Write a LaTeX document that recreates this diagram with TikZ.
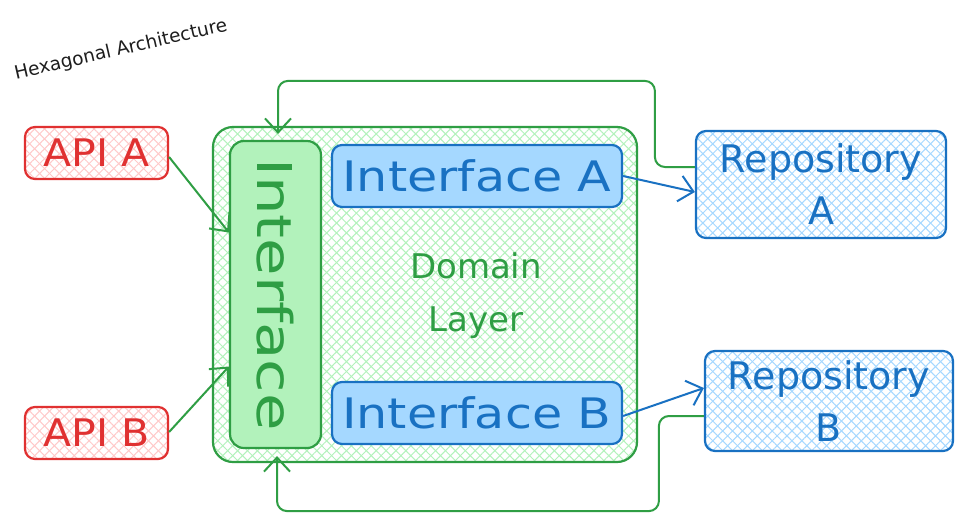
\documentclass[tikz,border=0pt]{standalone}
\usepackage{fontspec}
\setmainfont{DejaVu Sans}
\usetikzlibrary{patterns.meta,arrows.meta,calc}
\definecolor{cred}{HTML}{E03131}
\definecolor{credl}{HTML}{FFC9C9}
\definecolor{cgreen}{HTML}{2F9E44}
\definecolor{cgreenl}{HTML}{B2F2BB}
\definecolor{cblue}{HTML}{1971C2}
\definecolor{cbluel}{HTML}{A5D8FF}
\definecolor{cink}{HTML}{1E1E1E}
\tikzset{
  hatch/.style={
    preaction={pattern={Lines[angle=45,distance=7pt,line width=1pt]},pattern color=#1},
    preaction={pattern={Lines[angle=-45,distance=7pt,line width=1pt]},pattern color=#1}},
  box/.style={draw, line width=2.2pt, rounded corners=10pt, inner sep=0pt},
  redbox/.style={box, draw=cred, hatch=credl, text=cred},
  bluebox/.style={box, draw=cblue, hatch=cbluel, text=cblue},
  solidblue/.style={box, draw=cblue, fill=cbluel, text=cblue},
  arr/.style={line width=2pt, -{Straight Barb[length=14pt,width=26pt,line width=2pt]}},
  garr/.style={arr, draw=cgreen},
  barr/.style={arr, draw=cblue},
}
\newcommand{\hwfont}[1]{\fontsize{#1}{1.3\dimexpr#1pt\relax}\selectfont}
\begin{document}
\begin{tikzpicture}[x=1pt,y=1pt]
\useasboundingbox (0,0) rectangle (964,-520);
\fill[white] (0,0) rectangle (964,-520);

\node[rotate=13, text=cink, font=\hwfont{18.5}, inner sep=0pt] (title) at (121,-50) {Hexagonal Architecture};

% left APIs
\node[redbox, minimum width=143pt, minimum height=52pt, font=\hwfont{38}] (apiA) at (96.5,-153) {\scalebox{1.08}[1]{API A}};
\node[redbox, minimum width=143pt, minimum height=52pt, font=\hwfont{38}] (apiB) at (96.5,-433) {\scalebox{1.08}[1]{API B}};

% domain
\node[box, rounded corners=20pt, draw=cgreen, hatch=cgreenl, minimum width=424pt, minimum height=335pt] (dom) at (425,-294.5) {};
\node[box, rounded corners=14pt, draw=cgreen, fill=cgreenl, minimum width=91pt, minimum height=307pt] (intf) at (275.5,-294.5) {};
\node[rotate=-90, text=cgreen, font=\hwfont{48}] (intflabel) at (intf.center) {\scalebox{1.27}[1]{Interface}};
\node[solidblue, minimum width=290pt, minimum height=62pt, font=\hwfont{42}] (ifA) at (477,-176) {\scalebox{1.17}[1]{Interface A}};
\node[solidblue, minimum width=290pt, minimum height=62pt, font=\hwfont{42}] (ifB) at (477,-413) {\scalebox{1.17}[1]{Interface B}};
\node[text=cgreen, align=center, font=\fontsize{34}{53}\selectfont] (domlabel) at (476,-296) {Domain\\Layer};

% repositories
\node[bluebox, minimum width=250pt, minimum height=107pt, align=center, font=\fontsize{38}{52}\selectfont] (repoA) at (821,-184.5) {Repository\\A};
\node[bluebox, minimum width=248pt, minimum height=100pt, align=center, font=\fontsize{38}{52}\selectfont] (repoB) at (829,-401) {Repository\\B};

% connectors
\draw[garr] ([yshift=-4pt]apiA.east) -- ([yshift=62pt]intf.west);
\draw[garr] ([yshift=1pt]apiB.east) -- ([yshift=-72pt]intf.west);
\draw[barr] (ifA.east) -- ([yshift=-7.5pt]repoA.west);
\draw[barr] ([yshift=-3pt]ifB.east) -- ([yshift=13pt]repoB.west);
\draw[garr, rounded corners=10pt] ([yshift=17.5pt]repoA.west) -- ++(-40,0) |- ([xshift=2.5pt,yshift=59pt]intf.north) -- ([xshift=2.5pt,yshift=6pt]intf.north);
\draw[garr, rounded corners=10pt] ([yshift=-15pt]repoB.west) -- ++(-45,0) |- ([xshift=1.5pt,yshift=-62pt]intf.south) -- ([xshift=1.5pt,yshift=-7pt]intf.south);
\end{tikzpicture}
\end{document}
